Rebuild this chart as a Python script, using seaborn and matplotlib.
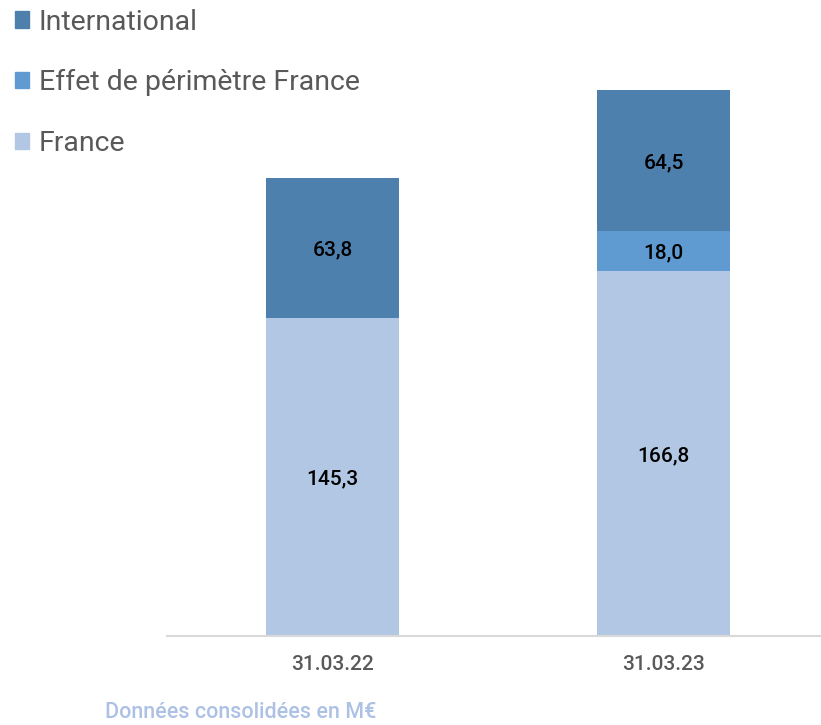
import matplotlib
matplotlib.use('Agg')
import matplotlib.pyplot as plt
from matplotlib.patches import Patch
import seaborn as sns
import pandas as pd

# données
dates = ['31.03.22', '31.03.23']
france = [145.3, 166.8]
effet_perimetre = [0.0, 18.0]
international = [63.8, 64.5]

couleurs = {
    'International': '#4e80ad',
    'Effet de périmètre France': '#5f9bd1',
    'France': '#b1c7e3',
}

sns.set_style('white')
plt.rcParams['font.family'] = ['Roboto', 'DejaVu Sans']

df = pd.DataFrame({
    'date': dates,
    'France': france,
    'Effet': effet_perimetre,
    'International': international,
})
df['cum_effet'] = df['France'] + df['Effet']
df['total'] = df['cum_effet'] + df['International']

fig = plt.figure(figsize=(8.21, 7.25), dpi=100)
ax = fig.add_axes([167 / 821, 89 / 725, 1 - 167 / 821, 636 / 725])

# barres empilées : on trace les cumuls, du plus haut au plus bas
for col, nom in [('total', 'International'), ('cum_effet', 'Effet de périmètre France'),
                 ('France', 'France')]:
    sns.barplot(data=df, x='date', y=col, color=couleurs[nom],
                width=0.4, saturation=1, linewidth=0, ax=ax)

# étiquettes de valeurs
for i, row in df.iterrows():
    segments = [(0, row['France']), (row['France'], row['Effet']),
                (row['cum_effet'], row['International'])]
    for bas, val in segments:
        if val <= 0:
            continue
        ax.text(i, bas + val / 2 - 1, f'{val:.1f}'.replace('.', ','),
                ha='center', va='center', fontsize=15, fontweight='medium', color='black')

ax.set_xlim(-0.5, -0.5 + 654 / 331)
ax.set_ylim(0, 636 / 2.19)
ax.set_xlabel('')
ax.set_ylabel('')
ax.set_yticks([])
for s in ['top', 'right', 'left']:
    ax.spines[s].set_visible(False)
ax.spines['bottom'].set_color('#d9d9d9')
ax.spines['bottom'].set_linewidth(1.5)
ax.tick_params(axis='x', length=0, pad=14, labelsize=15, labelcolor='#595959')
for lab in ax.get_xticklabels():
    lab.set_fontweight('medium')

handles = [Patch(color=c, label=l) for l, c in couleurs.items()]
fig.legend(handles=handles, loc='upper left', bbox_to_anchor=(6 / 821, 1.0),
           frameon=False, fontsize=20.5, labelcolor='#595959',
           handlelength=0.5, handleheight=0.5, handletextpad=0.35,
           labelspacing=1.18, borderpad=0.1, borderaxespad=0.2)

fig.text(105 / 821, 13 / 725, 'Données consolidées en M€', ha='left', va='center',
         fontsize=15.5, fontweight='medium', color='#adc1e4')

fig.savefig('out.png', dpi=100)
